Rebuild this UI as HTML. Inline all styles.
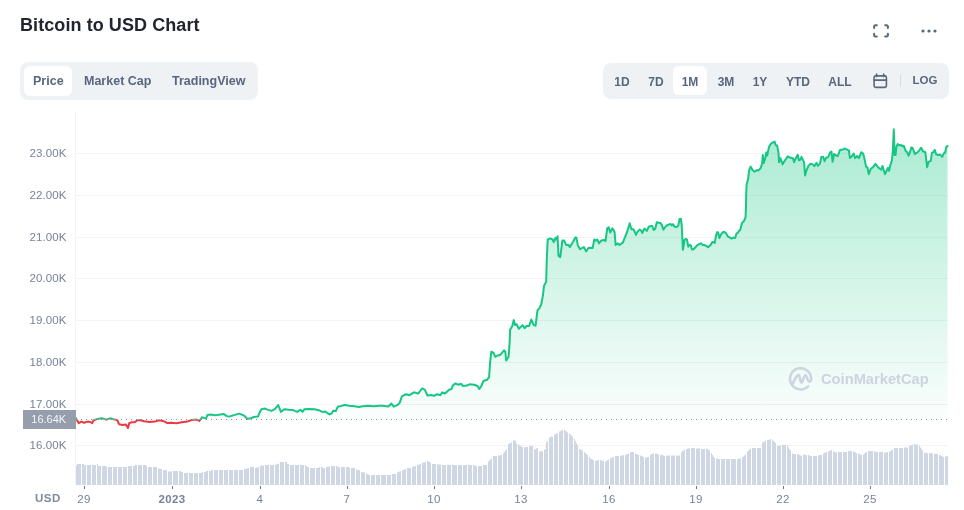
<!DOCTYPE html>
<html><head><meta charset="utf-8">
<style>
*{margin:0;padding:0;box-sizing:border-box}
html,body{width:964px;height:510px;overflow:hidden;background:#fff}
body{position:relative;font-family:"Liberation Sans",sans-serif;-webkit-font-smoothing:antialiased}
.a,.tab,.rb,.yl,.xl{will-change:transform}
.a{position:absolute;white-space:nowrap}
.title{left:20px;top:15.7px;font-size:18px;line-height:18px;font-weight:700;color:#222531;letter-spacing:0.08px}
.grp{position:absolute;background:#EFF2F5;border-radius:8px}
.act{position:absolute;background:#fff;border-radius:6px}
.tab{position:absolute;font-size:12.5px;line-height:12.5px;font-weight:700;color:#58667E;white-space:nowrap}
.rb{position:absolute;font-size:12px;line-height:12px;font-weight:700;color:#58667E;white-space:nowrap;text-align:center;width:40px}
.yl{position:absolute;left:0;width:66.5px;text-align:right;font-size:11.5px;line-height:11.5px;color:#77819A;white-space:nowrap;letter-spacing:0.1px}
.xl{position:absolute;top:493.8px;width:60px;text-align:center;font-size:11.5px;line-height:11.5px;color:#77819A;white-space:nowrap;letter-spacing:0.4px}
.xl.b{font-weight:700}
</style></head><body>
<div class="a title">Bitcoin to USD Chart</div>

<!-- top right icons -->
<svg class="a" style="left:0;top:0" width="964" height="60" viewBox="0 0 964 60">
  <g fill="none" stroke="#58667E" stroke-width="2" stroke-linecap="round" stroke-linejoin="round">
    <path d="M874.1 28V26.6a1.4 1.4 0 0 1 1.4-1.4H876.8"/>
    <path d="M885.2 25.2H886.5a1.4 1.4 0 0 1 1.4 1.4V28"/>
    <path d="M887.9 33.8V35.2a1.4 1.4 0 0 1-1.4 1.4H885.2"/>
    <path d="M876.8 36.6H875.5a1.4 1.4 0 0 1-1.4-1.4V33.8"/>
  </g>
  <g fill="#58667E">
    <circle cx="923" cy="31" r="1.6"/><circle cx="929" cy="31" r="1.6"/><circle cx="935" cy="31" r="1.6"/>
  </g>
</svg>

<!-- left tabs -->
<div class="grp" style="left:20px;top:62px;width:238px;height:38px"></div>
<div class="act" style="left:24px;top:66px;width:48px;height:30px"></div>
<div class="tab" style="left:33px;top:74.6px">Price</div>
<div class="tab" style="left:84px;top:74.6px">Market Cap</div>
<div class="tab" style="left:172px;top:74.6px">TradingView</div>

<!-- right range -->
<div class="grp" style="left:603px;top:63px;width:346px;height:36px"></div>
<div class="act" style="left:673px;top:66px;width:34px;height:29px"></div>
<div class="rb" style="left:602.3px;top:76.2px">1D</div>
<div class="rb" style="left:635.5px;top:76.2px">7D</div>
<div class="rb" style="left:669.7px;top:76.2px">1M</div>
<div class="rb" style="left:705.7px;top:76.2px">3M</div>
<div class="rb" style="left:740px;top:76.2px">1Y</div>
<div class="rb" style="left:777.8px;top:76.2px">YTD</div>
<div class="rb" style="left:819.8px;top:76.2px">ALL</div>
<div class="rb" style="left:905.2px;top:75.3px;font-size:11.5px;line-height:11.5px">LOG</div>
<svg class="a" style="left:0;top:0" width="964" height="100" viewBox="0 0 964 100">
  <g fill="none" stroke="#58667E" stroke-width="1.6" stroke-linecap="round" stroke-linejoin="round">
    <rect x="874.1" y="75.9" width="12.3" height="11.5" rx="1.6"/>
    <path d="M874.1 80.1H886.4"/>
    <path d="M876.6 74V76.6M883.7 74V76.6"/>
  </g>
  <rect x="900" y="74.5" width="1" height="12" fill="#D5DAE2"/>
</svg>

<!-- chart -->
<svg class="a" style="left:0;top:0" width="964" height="510" viewBox="0 0 964 510">
  <defs>
    <linearGradient id="gg" gradientUnits="userSpaceOnUse" x1="0" y1="129" x2="0" y2="419.5">
      <stop offset="0" stop-color="#16C784" stop-opacity="0.36"/>
      <stop offset="1" stop-color="#16C784" stop-opacity="0.02"/>
    </linearGradient>
    <linearGradient id="rg" gradientUnits="userSpaceOnUse" x1="0" y1="419.5" x2="0" y2="485">
      <stop offset="0" stop-color="#EA3943" stop-opacity="0.02"/>
      <stop offset="1" stop-color="#EA3943" stop-opacity="0.3"/>
    </linearGradient>
    <clipPath id="top"><rect x="0" y="0" width="964" height="419.5"/></clipPath>
    <clipPath id="bot"><rect x="0" y="419.5" width="964" height="100"/></clipPath>
  </defs>
  <rect x="75" y="111" width="1" height="374" fill="#F2F4F7"/>
  <rect x="76" y="153" width="872" height="1" fill="#F1F3F6"/><rect x="76" y="195" width="872" height="1" fill="#F1F3F6"/><rect x="76" y="237" width="872" height="1" fill="#F1F3F6"/><rect x="76" y="278" width="872" height="1" fill="#F1F3F6"/><rect x="76" y="320" width="872" height="1" fill="#F1F3F6"/><rect x="76" y="362" width="872" height="1" fill="#F1F3F6"/><rect x="76" y="404" width="872" height="1" fill="#F1F3F6"/><rect x="76" y="445" width="872" height="1" fill="#F1F3F6"/>
  <path d="M76 465.5h1V485h-1ZM77 464h4V485h-4ZM82 464h2V485h-2ZM84 465h2V485h-2ZM87 465h4V485h-4ZM92 465h4V485h-4ZM97 464h1V485h-1ZM98 466h3V485h-3ZM102 466h4V485h-4ZM106 466.5h1V485h-1ZM108 467h4V485h-4ZM113 467h4V485h-4ZM118 467h4V485h-4ZM123 467h4V485h-4ZM128 466h4V485h-4ZM133 466h2V485h-2ZM135 465h2V485h-2ZM138 465h4V485h-4ZM143 465h3V485h-3ZM146 466h1V485h-1ZM148 467h4V485h-4ZM153 467h4V485h-4ZM158 468.5h2V485h-2ZM160 469h2V485h-2ZM163 470h4V485h-4ZM168 471.5h4V485h-4ZM173 471h5V485h-5ZM179 471h2V485h-2ZM181 472h2V485h-2ZM184 473h4V485h-4ZM189 473h4V485h-4ZM194 473h4V485h-4ZM199 473h3V485h-3ZM202 472h1V485h-1ZM204 472h2V485h-2ZM206 471h2V485h-2ZM209 471h2V485h-2ZM211 470h2V485h-2ZM214 470h4V485h-4ZM219 470h4V485h-4ZM224 470h4V485h-4ZM229 470h4V485h-4ZM234 470h4V485h-4ZM239 470h4V485h-4ZM244 469h2V485h-2ZM246 468.5h2V485h-2ZM248 468h1V485h-1ZM250 467h4V485h-4ZM255 468h1V485h-1ZM256 467.5h2V485h-2ZM258 467h1V485h-1ZM260 465.5h4V485h-4ZM265 465h4V485h-4ZM270 465h4V485h-4ZM275 465h1V485h-1ZM276 464.5h1V485h-1ZM277 464h1V485h-1ZM278 463.5h1V485h-1ZM280 462h4V485h-4ZM285 462h2V485h-2ZM287 464h2V485h-2ZM290 465h4V485h-4ZM295 465h4V485h-4ZM300 465h4V485h-4ZM305 465h1V485h-1ZM306 466h1V485h-1ZM307 467h2V485h-2ZM310 468h5V485h-5ZM316 468h3V485h-3ZM319 467h1V485h-1ZM321 467h2V485h-2ZM323 468h2V485h-2ZM326 467h3V485h-3ZM329 466h1V485h-1ZM331 466h4V485h-4ZM336 466h1V485h-1ZM337 466.5h1V485h-1ZM338 467h2V485h-2ZM341 467h4V485h-4ZM346 467h3V485h-3ZM349 468h1V485h-1ZM351 468h4V485h-4ZM356 469.5h1V485h-1ZM357 470h2V485h-2ZM359 470.5h1V485h-1ZM361 472h2V485h-2ZM363 472.5h2V485h-2ZM366 474h2V485h-2ZM368 474.5h1V485h-1ZM369 475h1V485h-1ZM371 475h4V485h-4ZM376 475h4V485h-4ZM381 475h5V485h-5ZM387 475h4V485h-4ZM392 474h4V485h-4ZM397 472.5h1V485h-1ZM398 472h1V485h-1ZM399 471.5h1V485h-1ZM400 471h1V485h-1ZM402 470.5h1V485h-1ZM403 470h1V485h-1ZM404 469.5h1V485h-1ZM405 469h1V485h-1ZM407 468h4V485h-4ZM412 467h1V485h-1ZM413 466.5h2V485h-2ZM415 466h1V485h-1ZM417 465h1V485h-1ZM418 464.5h2V485h-2ZM420 464h1V485h-1ZM422 463h1V485h-1ZM423 462.5h2V485h-2ZM425 462h1V485h-1ZM427 461h1V485h-1ZM428 461.5h1V485h-1ZM429 462h1V485h-1ZM430 462.5h1V485h-1ZM432 464h4V485h-4ZM437 464.5h4V485h-4ZM442 465h4V485h-4ZM447 465h1V485h-1ZM448 464.5h1V485h-1ZM449 465h2V485h-2ZM452 465h5V485h-5ZM458 465h4V485h-4ZM463 465h4V485h-4ZM468 465h4V485h-4ZM473 465h1V485h-1ZM474 465.5h2V485h-2ZM476 466h1V485h-1ZM478 466h4V485h-4ZM483 465h4V485h-4ZM488 461.5h1V485h-1ZM489 460.5h1V485h-1ZM490 459.5h1V485h-1ZM491 458.5h1V485h-1ZM493 456h4V485h-4ZM498 455.5h2V485h-2ZM500 455h2V485h-2ZM503 453.5h1V485h-1ZM504 452h1V485h-1ZM505 450.5h1V485h-1ZM506 449.5h1V485h-1ZM508 444h1V485h-1ZM509 443.5h1V485h-1ZM510 443h1V485h-1ZM511 442.5h1V485h-1ZM513 440.5h3V485h-3ZM516 443.5h1V485h-1ZM518 444.5h1V485h-1ZM519 445.5h1V485h-1ZM520 446h1V485h-1ZM521 446.5h1V485h-1ZM522 447h1V485h-1ZM524 447h4V485h-4ZM529 446h4V485h-4ZM534 449.5h1V485h-1ZM535 449h1V485h-1ZM536 448.5h1V485h-1ZM537 448h1V485h-1ZM539 451.5h2V485h-2ZM541 451h2V485h-2ZM544 449.5h2V485h-2ZM546 442.5h1V485h-1ZM547 441h1V485h-1ZM549 437.5h1V485h-1ZM550 437h1V485h-1ZM551 436.5h2V485h-2ZM554 434.5h1V485h-1ZM555 434h1V485h-1ZM556 433.5h1V485h-1ZM557 433h1V485h-1ZM559 431.5h1V485h-1ZM560 431h1V485h-1ZM561 430.5h1V485h-1ZM562 430h1V485h-1ZM564 430h1V485h-1ZM565 430.5h1V485h-1ZM566 431.5h1V485h-1ZM567 432.5h1V485h-1ZM569 433.5h1V485h-1ZM570 434.5h1V485h-1ZM571 435.5h1V485h-1ZM572 436.5h1V485h-1ZM574 439h1V485h-1ZM575 441h1V485h-1ZM576 443h1V485h-1ZM577 445h1V485h-1ZM579 449h1V485h-1ZM580 449.5h1V485h-1ZM581 450h1V485h-1ZM582 450.5h1V485h-1ZM584 452h1V485h-1ZM585 453h1V485h-1ZM586 454h1V485h-1ZM587 455h1V485h-1ZM589 457h1V485h-1ZM590 458.5h1V485h-1ZM591 459h1V485h-1ZM592 459.5h1V485h-1ZM593 460h1V485h-1ZM595 461h1V485h-1ZM596 460.5h2V485h-2ZM598 460h1V485h-1ZM600 460h1V485h-1ZM601 460.5h1V485h-1ZM602 461h2V485h-2ZM605 461.5h1V485h-1ZM606 461h1V485h-1ZM607 460h1V485h-1ZM608 459.5h1V485h-1ZM610 458h2V485h-2ZM612 457.5h1V485h-1ZM613 457h1V485h-1ZM615 456h4V485h-4ZM620 456h1V485h-1ZM621 455.5h2V485h-2ZM623 455h1V485h-1ZM625 455h1V485h-1ZM626 454.5h1V485h-1ZM627 454h1V485h-1ZM628 453.5h1V485h-1ZM630 452.5h1V485h-1ZM631 452h3V485h-3ZM635 453.5h1V485h-1ZM636 454h1V485h-1ZM637 454.5h1V485h-1ZM638 455h1V485h-1ZM640 455.5h1V485h-1ZM641 456h1V485h-1ZM642 456.5h1V485h-1ZM643 457h1V485h-1ZM645 458h1V485h-1ZM646 457.5h1V485h-1ZM647 457h2V485h-2ZM650 455h1V485h-1ZM651 454h2V485h-2ZM653 453.5h1V485h-1ZM655 453.5h2V485h-2ZM657 454h1V485h-1ZM658 454.5h1V485h-1ZM660 455h1V485h-1ZM661 454.5h1V485h-1ZM662 455h1V485h-1ZM663 455.5h1V485h-1ZM664 456h1V485h-1ZM666 455.5h4V485h-4ZM671 455.5h4V485h-4ZM676 455.5h4V485h-4ZM681 452.5h1V485h-1ZM682 451h1V485h-1ZM683 450.5h1V485h-1ZM684 449.5h1V485h-1ZM686 449h1V485h-1ZM687 448.5h3V485h-3ZM691 448h4V485h-4ZM696 448.5h4V485h-4ZM701 449h4V485h-4ZM706 448.5h1V485h-1ZM707 449h1V485h-1ZM708 450h1V485h-1ZM709 450.5h1V485h-1ZM711 453h1V485h-1ZM712 455h1V485h-1ZM713 456.5h1V485h-1ZM714 458h1V485h-1ZM716 458.5h2V485h-2ZM718 459h2V485h-2ZM721 459h4V485h-4ZM726 459h4V485h-4ZM731 459h5V485h-5ZM737 459h2V485h-2ZM739 458.5h2V485h-2ZM742 457h1V485h-1ZM743 456.5h1V485h-1ZM744 455.5h1V485h-1ZM745 454.5h1V485h-1ZM747 451.5h1V485h-1ZM748 450.5h1V485h-1ZM749 449.5h1V485h-1ZM750 448.5h1V485h-1ZM752 448h4V485h-4ZM757 448h4V485h-4ZM762 442.5h1V485h-1ZM763 442h1V485h-1ZM764 441.5h1V485h-1ZM765 440.5h1V485h-1ZM767 440h2V485h-2ZM769 439.5h1V485h-1ZM770 439h1V485h-1ZM772 439.5h1V485h-1ZM773 441h1V485h-1ZM774 442h1V485h-1ZM775 443h1V485h-1ZM777 446h2V485h-2ZM779 445.5h2V485h-2ZM782 445h4V485h-4ZM787 445.5h1V485h-1ZM788 447.5h1V485h-1ZM789 449h1V485h-1ZM790 450.5h1V485h-1ZM792 453.5h1V485h-1ZM793 454h3V485h-3ZM797 454h1V485h-1ZM798 454.5h1V485h-1ZM799 455h1V485h-1ZM800 455.5h1V485h-1ZM801 456h1V485h-1ZM803 454.5h2V485h-2ZM805 455h2V485h-2ZM808 455h1V485h-1ZM809 455.5h1V485h-1ZM810 456h2V485h-2ZM813 456h4V485h-4ZM818 455.5h1V485h-1ZM819 455h3V485h-3ZM823 453.5h1V485h-1ZM824 453h1V485h-1ZM825 452.5h1V485h-1ZM826 452h1V485h-1ZM828 451.5h1V485h-1ZM829 451h1V485h-1ZM830 450.5h1V485h-1ZM831 450h1V485h-1ZM833 451.5h1V485h-1ZM834 452h1V485h-1ZM835 452.5h2V485h-2ZM838 452h4V485h-4ZM843 452h4V485h-4ZM848 451h4V485h-4ZM853 451.5h1V485h-1ZM854 452h1V485h-1ZM855 452.5h1V485h-1ZM856 453h1V485h-1ZM858 453.5h1V485h-1ZM859 454h1V485h-1ZM860 454.5h1V485h-1ZM861 455h1V485h-1ZM863 454.5h1V485h-1ZM864 453.5h1V485h-1ZM865 452.5h1V485h-1ZM866 452h1V485h-1ZM868 451h5V485h-5ZM874 451h1V485h-1ZM875 451.5h1V485h-1ZM876 452h2V485h-2ZM879 452h4V485h-4ZM884 452.5h3V485h-3ZM887 452h1V485h-1ZM889 452h1V485h-1ZM890 451h1V485h-1ZM891 450.5h1V485h-1ZM892 449.5h1V485h-1ZM894 448h4V485h-4ZM899 448h4V485h-4ZM904 447.5h4V485h-4ZM909 446h1V485h-1ZM910 445.5h1V485h-1ZM911 445h1V485h-1ZM912 444.5h1V485h-1ZM914 444h1V485h-1ZM915 444.5h3V485h-3ZM919 446h1V485h-1ZM920 447.5h1V485h-1ZM921 449h1V485h-1ZM922 450.5h1V485h-1ZM924 452.5h1V485h-1ZM925 453h3V485h-3ZM929 453h3V485h-3ZM932 453.5h1V485h-1ZM934 453.5h1V485h-1ZM935 454h3V485h-3ZM939 455h1V485h-1ZM940 455.5h1V485h-1ZM941 456h1V485h-1ZM942 456.5h1V485h-1ZM943 457h1V485h-1ZM945 456.5h2V485h-2ZM947 456h1V485h-1Z" fill="#CFD6E4"/>
  <g fill="#878FA0"><rect x="81" y="419" width="1" height="1"/><rect x="86" y="419" width="1" height="1"/><rect x="91" y="419" width="1" height="1"/><rect x="96" y="419" width="1" height="1"/><rect x="101" y="419" width="1" height="1"/><rect x="106" y="419" width="1" height="1"/><rect x="111" y="419" width="1" height="1"/><rect x="116" y="419" width="1" height="1"/><rect x="121" y="419" width="1" height="1"/><rect x="126" y="419" width="1" height="1"/><rect x="131" y="419" width="1" height="1"/><rect x="136" y="419" width="1" height="1"/><rect x="141" y="419" width="1" height="1"/><rect x="146" y="419" width="1" height="1"/><rect x="151" y="419" width="1" height="1"/><rect x="156" y="419" width="1" height="1"/><rect x="161" y="419" width="1" height="1"/><rect x="166" y="419" width="1" height="1"/><rect x="171" y="419" width="1" height="1"/><rect x="176" y="419" width="1" height="1"/><rect x="181" y="419" width="1" height="1"/><rect x="186" y="419" width="1" height="1"/><rect x="191" y="419" width="1" height="1"/><rect x="196" y="419" width="1" height="1"/><rect x="201" y="419" width="1" height="1"/><rect x="206" y="419" width="1" height="1"/><rect x="211" y="419" width="1" height="1"/><rect x="216" y="419" width="1" height="1"/><rect x="221" y="419" width="1" height="1"/><rect x="226" y="419" width="1" height="1"/><rect x="231" y="419" width="1" height="1"/><rect x="236" y="419" width="1" height="1"/><rect x="241" y="419" width="1" height="1"/><rect x="246" y="419" width="1" height="1"/><rect x="251" y="419" width="1" height="1"/><rect x="256" y="419" width="1" height="1"/><rect x="261" y="419" width="1" height="1"/><rect x="266" y="419" width="1" height="1"/><rect x="271" y="419" width="1" height="1"/><rect x="276" y="419" width="1" height="1"/><rect x="281" y="419" width="1" height="1"/><rect x="286" y="419" width="1" height="1"/><rect x="291" y="419" width="1" height="1"/><rect x="296" y="419" width="1" height="1"/><rect x="301" y="419" width="1" height="1"/><rect x="306" y="419" width="1" height="1"/><rect x="311" y="419" width="1" height="1"/><rect x="316" y="419" width="1" height="1"/><rect x="321" y="419" width="1" height="1"/><rect x="326" y="419" width="1" height="1"/><rect x="331" y="419" width="1" height="1"/><rect x="336" y="419" width="1" height="1"/><rect x="341" y="419" width="1" height="1"/><rect x="346" y="419" width="1" height="1"/><rect x="351" y="419" width="1" height="1"/><rect x="356" y="419" width="1" height="1"/><rect x="361" y="419" width="1" height="1"/><rect x="366" y="419" width="1" height="1"/><rect x="371" y="419" width="1" height="1"/><rect x="376" y="419" width="1" height="1"/><rect x="381" y="419" width="1" height="1"/><rect x="386" y="419" width="1" height="1"/><rect x="391" y="419" width="1" height="1"/><rect x="396" y="419" width="1" height="1"/><rect x="401" y="419" width="1" height="1"/><rect x="406" y="419" width="1" height="1"/><rect x="411" y="419" width="1" height="1"/><rect x="416" y="419" width="1" height="1"/><rect x="421" y="419" width="1" height="1"/><rect x="426" y="419" width="1" height="1"/><rect x="431" y="419" width="1" height="1"/><rect x="436" y="419" width="1" height="1"/><rect x="441" y="419" width="1" height="1"/><rect x="446" y="419" width="1" height="1"/><rect x="451" y="419" width="1" height="1"/><rect x="456" y="419" width="1" height="1"/><rect x="461" y="419" width="1" height="1"/><rect x="466" y="419" width="1" height="1"/><rect x="471" y="419" width="1" height="1"/><rect x="476" y="419" width="1" height="1"/><rect x="481" y="419" width="1" height="1"/><rect x="486" y="419" width="1" height="1"/><rect x="491" y="419" width="1" height="1"/><rect x="496" y="419" width="1" height="1"/><rect x="501" y="419" width="1" height="1"/><rect x="506" y="419" width="1" height="1"/><rect x="511" y="419" width="1" height="1"/><rect x="516" y="419" width="1" height="1"/><rect x="521" y="419" width="1" height="1"/><rect x="526" y="419" width="1" height="1"/><rect x="531" y="419" width="1" height="1"/><rect x="536" y="419" width="1" height="1"/><rect x="541" y="419" width="1" height="1"/><rect x="546" y="419" width="1" height="1"/><rect x="551" y="419" width="1" height="1"/><rect x="556" y="419" width="1" height="1"/><rect x="561" y="419" width="1" height="1"/><rect x="566" y="419" width="1" height="1"/><rect x="571" y="419" width="1" height="1"/><rect x="576" y="419" width="1" height="1"/><rect x="581" y="419" width="1" height="1"/><rect x="586" y="419" width="1" height="1"/><rect x="591" y="419" width="1" height="1"/><rect x="596" y="419" width="1" height="1"/><rect x="601" y="419" width="1" height="1"/><rect x="606" y="419" width="1" height="1"/><rect x="611" y="419" width="1" height="1"/><rect x="616" y="419" width="1" height="1"/><rect x="621" y="419" width="1" height="1"/><rect x="626" y="419" width="1" height="1"/><rect x="631" y="419" width="1" height="1"/><rect x="636" y="419" width="1" height="1"/><rect x="641" y="419" width="1" height="1"/><rect x="646" y="419" width="1" height="1"/><rect x="651" y="419" width="1" height="1"/><rect x="656" y="419" width="1" height="1"/><rect x="661" y="419" width="1" height="1"/><rect x="666" y="419" width="1" height="1"/><rect x="671" y="419" width="1" height="1"/><rect x="676" y="419" width="1" height="1"/><rect x="681" y="419" width="1" height="1"/><rect x="686" y="419" width="1" height="1"/><rect x="691" y="419" width="1" height="1"/><rect x="696" y="419" width="1" height="1"/><rect x="701" y="419" width="1" height="1"/><rect x="706" y="419" width="1" height="1"/><rect x="711" y="419" width="1" height="1"/><rect x="716" y="419" width="1" height="1"/><rect x="721" y="419" width="1" height="1"/><rect x="726" y="419" width="1" height="1"/><rect x="731" y="419" width="1" height="1"/><rect x="736" y="419" width="1" height="1"/><rect x="741" y="419" width="1" height="1"/><rect x="746" y="419" width="1" height="1"/><rect x="751" y="419" width="1" height="1"/><rect x="756" y="419" width="1" height="1"/><rect x="761" y="419" width="1" height="1"/><rect x="766" y="419" width="1" height="1"/><rect x="771" y="419" width="1" height="1"/><rect x="776" y="419" width="1" height="1"/><rect x="781" y="419" width="1" height="1"/><rect x="786" y="419" width="1" height="1"/><rect x="791" y="419" width="1" height="1"/><rect x="796" y="419" width="1" height="1"/><rect x="801" y="419" width="1" height="1"/><rect x="806" y="419" width="1" height="1"/><rect x="811" y="419" width="1" height="1"/><rect x="816" y="419" width="1" height="1"/><rect x="821" y="419" width="1" height="1"/><rect x="826" y="419" width="1" height="1"/><rect x="831" y="419" width="1" height="1"/><rect x="836" y="419" width="1" height="1"/><rect x="841" y="419" width="1" height="1"/><rect x="846" y="419" width="1" height="1"/><rect x="851" y="419" width="1" height="1"/><rect x="856" y="419" width="1" height="1"/><rect x="861" y="419" width="1" height="1"/><rect x="866" y="419" width="1" height="1"/><rect x="871" y="419" width="1" height="1"/><rect x="876" y="419" width="1" height="1"/><rect x="881" y="419" width="1" height="1"/><rect x="886" y="419" width="1" height="1"/><rect x="891" y="419" width="1" height="1"/><rect x="896" y="419" width="1" height="1"/><rect x="901" y="419" width="1" height="1"/><rect x="906" y="419" width="1" height="1"/><rect x="911" y="419" width="1" height="1"/><rect x="916" y="419" width="1" height="1"/><rect x="921" y="419" width="1" height="1"/><rect x="926" y="419" width="1" height="1"/><rect x="931" y="419" width="1" height="1"/><rect x="936" y="419" width="1" height="1"/><rect x="941" y="419" width="1" height="1"/><rect x="946" y="419" width="1" height="1"/></g>
  <path d="M76,418.2 78.7,423.2 81.4,421.6 84.1,422.7 87.5,421.6 90.2,422 92.2,423.2 93.6,420.2 97.6,418.9 101.6,418.2 106.4,419.6 110.4,418.2 114.5,419.6 117.2,420 119.2,424.3 122.5,425 125.9,424.5 128,428 129.3,422.9 132,422.3 134.7,422.3 137.4,420.2 140,420 144.1,421.3 149.5,422 154.9,421.6 159,420.2 163,420.9 167,422.9 171.1,422.7 176.5,423.2 181.9,422.3 187.3,421.6 191.3,420 196.7,419.6 199.4,420.9 202,417.3 204,417.9 206,418.6 207.4,415 210.8,414.6 214.8,415.2 217.5,415 220.2,414.6 223.6,413.9 226.3,415.9 229,416.6 232.4,415.6 235.7,414.6 239.1,413.6 241.8,414.6 244.5,415.9 247.2,419 250.6,418.2 253.9,417 258,416.6 259.3,413.2 261.4,409.2 264.7,408.5 267.4,409.6 271.5,410.9 274.8,409.2 278.2,405.1 280.9,411.9 284.3,409.2 289,409.8 293.1,410.1 297.1,411.9 300.5,409.8 302.5,411.9 304.5,409.2 309.2,408.9 314.6,409.2 318.7,410.2 322.7,412.1 325.4,411.5 327,412.8 329.7,414.4 331.7,413.4 333.1,410.7 335.8,411.1 337.8,406.7 341.2,406 344.6,404.9 349.3,405.7 354.7,406.3 358.7,407 362.8,406.3 368.2,405.7 373.6,406.3 378.9,405.7 383,405.7 388.4,406.4 391.4,403.6 393.8,406.7 397.8,404.9 399.8,402.6 401.9,396.3 405.9,394.2 409.3,395.2 414,392.3 418.1,393.6 422.1,388.5 424.8,389.6 427.5,395.5 431.5,395 434.2,395.9 436.9,394.2 440.3,395.2 442.3,392.3 445,393.5 449.1,389.8 451.5,389 452.8,385.6 455.2,383.4 458.4,384.7 461.2,383.8 463,386 466.8,385.6 469.5,384.3 474.2,384.7 477.5,386 479.4,389 481.3,386 483.5,381 487.2,379.7 489.1,377.2 490,363.3 491.3,351.7 493.7,353 495.2,356.8 497.5,355.5 500.3,354.9 504,350.3 505.3,351.7 506.2,360.5 508.6,356.8 509.6,342.8 510.1,329.8 512.3,326.1 513.8,320.1 515.1,325.1 516.6,324.2 518.9,328.8 522.6,325.1 524.8,328.3 526.3,326.1 529.1,326.1 531.3,319.5 533.8,325.1 535.6,325.7 537.5,310.2 539.3,308.4 541.2,304.5 542.9,295.6 544,285.9 546.2,281.6 546.8,258.9 547.7,239.5 550.5,238.4 552.6,239.5 553.7,242.1 555.5,237.8 556.3,239.5 557.6,236.3 558.5,255.7 560.2,257.2 562.4,240.6 564.1,240.6 566.2,244.9 568.4,244.9 569.9,247.1 573.1,241.7 575.3,237.4 576.4,237.8 577.9,245.6 580,249.2 583.9,247.1 586.1,251.4 588.7,247.7 592.6,248.1 594.3,239.5 595.8,240.6 597.3,239.5 599,243.4 601.2,240.6 604.4,239.9 605.5,241.2 607.2,228.3 608.7,227.2 610.2,232.6 612.4,228.3 614.6,232 615.6,244.9 617.4,243.4 619.5,244.9 622.8,242.7 624.9,237.4 627.1,232 629.7,223.3 631.4,229.2 633.5,229.2 635,232.4 636,234.9 637.5,231.7 639.7,229.6 641.2,230.5 642.2,233 644.3,228.6 645.6,229.6 646.8,230.9 648.7,226.8 650.6,226.1 652.2,225.9 653.7,229.9 655.2,228.9 656.8,222.2 658.7,222.7 660.5,223 661.8,224.9 663.4,229.6 664.9,227.4 666.7,225.5 668.6,224.6 670.5,223.9 671.7,225.5 673,224.3 674.6,226.8 676.7,227.1 678.3,225.5 679.6,218.9 680.8,218.7 681.7,224.9 682.3,237.3 682.9,249.8 683.8,244.8 684.5,239.8 686,238.8 687,239.8 688.3,246.7 689.8,244.8 690.8,245.4 692,249.5 693.5,249.2 695.4,247.3 697.2,245.4 699.1,244.2 701,243.3 702.8,245.1 704.7,245.1 706.6,246.1 708.2,247.3 709.7,245.8 710.9,244.8 712.2,242.1 713.4,242.1 714.7,242.9 715.9,236.1 717.2,232.1 718.2,232.6 719.4,238 720.9,234.6 723.4,231.7 725.9,233 727.7,236.3 729.6,237.3 731.5,238.6 733.3,237.6 735.2,238 736.5,233.4 737.7,233 739,230.9 740.2,229.9 741.1,226.1 742.1,222.7 743.9,221.2 745.5,217.4 746,207.5 746.2,193.8 746.6,185 748.1,179.1 749.1,170.3 750.6,166.6 752.5,170 754.7,171.8 756.9,170 758.4,170.6 760.6,168.1 762.1,163.7 762.8,154.9 763.8,162.9 765,159.3 766.2,152.4 767.2,155.6 767.9,151.9 769.1,146.8 770.9,143.8 772.6,142.6 774.6,141.6 775.7,145.3 777.1,145.6 778.5,152.6 779,162.2 780.4,158.2 782.6,164.4 784.1,161.5 787.8,156.3 790.7,157.8 792.9,158.2 794.1,162.2 795.9,157.8 797.8,154.9 798.8,160.3 800.3,159.7 801.5,156.8 804,162.2 805.1,175.4 806.5,170.3 808.4,165.9 810.6,163.7 812.8,164.4 814.3,166.2 816.5,162.9 817.9,165.9 819.9,163.7 821.3,157.1 823.1,156.8 824.6,161.2 826,157.8 828.2,157.1 830,152.6 831.5,151.5 832.6,161.8 834.1,154.1 836.3,155.6 837.8,155.9 840,150 842.9,149.4 845.1,148.5 847.5,149.9 848.9,150.5 849.9,158.1 851.7,156.4 853.7,153.6 855.1,158.1 857.2,156 858.9,158.1 861.3,152.2 863.1,153.6 864.7,159.8 866.1,166.7 867.4,167.3 868.8,174.2 870.9,168.7 872.9,167.3 875.4,163.9 877.7,166.7 879.8,168.7 881.2,169.7 882.5,166 885,174.2 886.7,170.5 888,167.8 889.1,170.8 890.5,164.6 891.9,160.5 892.8,151.6 893.8,129.3 894.6,155 895.6,155 896.3,147.4 897.6,144 899.7,145.4 901.1,145 902.4,146.3 903.8,145.8 905.9,151.3 907.2,152.2 908.6,155.7 910,152.2 911.4,147.4 912.7,148.1 914.8,154 916.8,152.9 918.9,150.9 921.2,147.7 923,151.3 925.4,152.2 927.1,167.3 928.5,161.9 930.8,160.9 931.9,152.9 933.3,152.2 934.7,149.9 936.1,154.3 938.1,155 940.2,154.6 942.2,156.8 943.6,153.6 945,152.7 946.4,146.8 947.5,146.1 L947.5,419.5 L76,419.5 Z" fill="url(#gg)" clip-path="url(#top)"/>
  <path d="M76,418.2 78.7,423.2 81.4,421.6 84.1,422.7 87.5,421.6 90.2,422 92.2,423.2 93.6,420.2 97.6,418.9 101.6,418.2 106.4,419.6 110.4,418.2 114.5,419.6 117.2,420 119.2,424.3 122.5,425 125.9,424.5 128,428 129.3,422.9 132,422.3 134.7,422.3 137.4,420.2 140,420 144.1,421.3 149.5,422 154.9,421.6 159,420.2 163,420.9 167,422.9 171.1,422.7 176.5,423.2 181.9,422.3 187.3,421.6 191.3,420 196.7,419.6 199.4,420.9 202,417.3 204,417.9 206,418.6 207.4,415 210.8,414.6 214.8,415.2 217.5,415 220.2,414.6 223.6,413.9 226.3,415.9 229,416.6 232.4,415.6 235.7,414.6 239.1,413.6 241.8,414.6 244.5,415.9 247.2,419 250.6,418.2 253.9,417 258,416.6 259.3,413.2 261.4,409.2 264.7,408.5 267.4,409.6 271.5,410.9 274.8,409.2 278.2,405.1 280.9,411.9 284.3,409.2 289,409.8 293.1,410.1 297.1,411.9 300.5,409.8 302.5,411.9 304.5,409.2 309.2,408.9 314.6,409.2 318.7,410.2 322.7,412.1 325.4,411.5 327,412.8 329.7,414.4 331.7,413.4 333.1,410.7 335.8,411.1 337.8,406.7 341.2,406 344.6,404.9 349.3,405.7 354.7,406.3 358.7,407 362.8,406.3 368.2,405.7 373.6,406.3 378.9,405.7 383,405.7 388.4,406.4 391.4,403.6 393.8,406.7 397.8,404.9 399.8,402.6 401.9,396.3 405.9,394.2 409.3,395.2 414,392.3 418.1,393.6 422.1,388.5 424.8,389.6 427.5,395.5 431.5,395 434.2,395.9 436.9,394.2 440.3,395.2 442.3,392.3 445,393.5 449.1,389.8 451.5,389 452.8,385.6 455.2,383.4 458.4,384.7 461.2,383.8 463,386 466.8,385.6 469.5,384.3 474.2,384.7 477.5,386 479.4,389 481.3,386 483.5,381 487.2,379.7 489.1,377.2 490,363.3 491.3,351.7 493.7,353 495.2,356.8 497.5,355.5 500.3,354.9 504,350.3 505.3,351.7 506.2,360.5 508.6,356.8 509.6,342.8 510.1,329.8 512.3,326.1 513.8,320.1 515.1,325.1 516.6,324.2 518.9,328.8 522.6,325.1 524.8,328.3 526.3,326.1 529.1,326.1 531.3,319.5 533.8,325.1 535.6,325.7 537.5,310.2 539.3,308.4 541.2,304.5 542.9,295.6 544,285.9 546.2,281.6 546.8,258.9 547.7,239.5 550.5,238.4 552.6,239.5 553.7,242.1 555.5,237.8 556.3,239.5 557.6,236.3 558.5,255.7 560.2,257.2 562.4,240.6 564.1,240.6 566.2,244.9 568.4,244.9 569.9,247.1 573.1,241.7 575.3,237.4 576.4,237.8 577.9,245.6 580,249.2 583.9,247.1 586.1,251.4 588.7,247.7 592.6,248.1 594.3,239.5 595.8,240.6 597.3,239.5 599,243.4 601.2,240.6 604.4,239.9 605.5,241.2 607.2,228.3 608.7,227.2 610.2,232.6 612.4,228.3 614.6,232 615.6,244.9 617.4,243.4 619.5,244.9 622.8,242.7 624.9,237.4 627.1,232 629.7,223.3 631.4,229.2 633.5,229.2 635,232.4 636,234.9 637.5,231.7 639.7,229.6 641.2,230.5 642.2,233 644.3,228.6 645.6,229.6 646.8,230.9 648.7,226.8 650.6,226.1 652.2,225.9 653.7,229.9 655.2,228.9 656.8,222.2 658.7,222.7 660.5,223 661.8,224.9 663.4,229.6 664.9,227.4 666.7,225.5 668.6,224.6 670.5,223.9 671.7,225.5 673,224.3 674.6,226.8 676.7,227.1 678.3,225.5 679.6,218.9 680.8,218.7 681.7,224.9 682.3,237.3 682.9,249.8 683.8,244.8 684.5,239.8 686,238.8 687,239.8 688.3,246.7 689.8,244.8 690.8,245.4 692,249.5 693.5,249.2 695.4,247.3 697.2,245.4 699.1,244.2 701,243.3 702.8,245.1 704.7,245.1 706.6,246.1 708.2,247.3 709.7,245.8 710.9,244.8 712.2,242.1 713.4,242.1 714.7,242.9 715.9,236.1 717.2,232.1 718.2,232.6 719.4,238 720.9,234.6 723.4,231.7 725.9,233 727.7,236.3 729.6,237.3 731.5,238.6 733.3,237.6 735.2,238 736.5,233.4 737.7,233 739,230.9 740.2,229.9 741.1,226.1 742.1,222.7 743.9,221.2 745.5,217.4 746,207.5 746.2,193.8 746.6,185 748.1,179.1 749.1,170.3 750.6,166.6 752.5,170 754.7,171.8 756.9,170 758.4,170.6 760.6,168.1 762.1,163.7 762.8,154.9 763.8,162.9 765,159.3 766.2,152.4 767.2,155.6 767.9,151.9 769.1,146.8 770.9,143.8 772.6,142.6 774.6,141.6 775.7,145.3 777.1,145.6 778.5,152.6 779,162.2 780.4,158.2 782.6,164.4 784.1,161.5 787.8,156.3 790.7,157.8 792.9,158.2 794.1,162.2 795.9,157.8 797.8,154.9 798.8,160.3 800.3,159.7 801.5,156.8 804,162.2 805.1,175.4 806.5,170.3 808.4,165.9 810.6,163.7 812.8,164.4 814.3,166.2 816.5,162.9 817.9,165.9 819.9,163.7 821.3,157.1 823.1,156.8 824.6,161.2 826,157.8 828.2,157.1 830,152.6 831.5,151.5 832.6,161.8 834.1,154.1 836.3,155.6 837.8,155.9 840,150 842.9,149.4 845.1,148.5 847.5,149.9 848.9,150.5 849.9,158.1 851.7,156.4 853.7,153.6 855.1,158.1 857.2,156 858.9,158.1 861.3,152.2 863.1,153.6 864.7,159.8 866.1,166.7 867.4,167.3 868.8,174.2 870.9,168.7 872.9,167.3 875.4,163.9 877.7,166.7 879.8,168.7 881.2,169.7 882.5,166 885,174.2 886.7,170.5 888,167.8 889.1,170.8 890.5,164.6 891.9,160.5 892.8,151.6 893.8,129.3 894.6,155 895.6,155 896.3,147.4 897.6,144 899.7,145.4 901.1,145 902.4,146.3 903.8,145.8 905.9,151.3 907.2,152.2 908.6,155.7 910,152.2 911.4,147.4 912.7,148.1 914.8,154 916.8,152.9 918.9,150.9 921.2,147.7 923,151.3 925.4,152.2 927.1,167.3 928.5,161.9 930.8,160.9 931.9,152.9 933.3,152.2 934.7,149.9 936.1,154.3 938.1,155 940.2,154.6 942.2,156.8 943.6,153.6 945,152.7 946.4,146.8 947.5,146.1" fill="none" stroke="#16C784" stroke-width="2" stroke-linejoin="round" stroke-linecap="round" clip-path="url(#top)"/>
  <path d="M76,418.2 78.7,423.2 81.4,421.6 84.1,422.7 87.5,421.6 90.2,422 92.2,423.2 93.6,420.2 97.6,418.9 101.6,418.2 106.4,419.6 110.4,418.2 114.5,419.6 117.2,420 119.2,424.3 122.5,425 125.9,424.5 128,428 129.3,422.9 132,422.3 134.7,422.3 137.4,420.2 140,420 144.1,421.3 149.5,422 154.9,421.6 159,420.2 163,420.9 167,422.9 171.1,422.7 176.5,423.2 181.9,422.3 187.3,421.6 191.3,420 196.7,419.6 199.4,420.9 202,417.3 204,417.9 206,418.6 207.4,415 210.8,414.6 214.8,415.2 217.5,415 220.2,414.6 223.6,413.9 226.3,415.9 229,416.6 232.4,415.6 235.7,414.6 239.1,413.6 241.8,414.6 244.5,415.9 247.2,419 250.6,418.2 253.9,417 258,416.6 259.3,413.2 261.4,409.2 264.7,408.5 267.4,409.6 271.5,410.9 274.8,409.2 278.2,405.1 280.9,411.9 284.3,409.2 289,409.8 293.1,410.1 297.1,411.9 300.5,409.8 302.5,411.9 304.5,409.2 309.2,408.9 314.6,409.2 318.7,410.2 322.7,412.1 325.4,411.5 327,412.8 329.7,414.4 331.7,413.4 333.1,410.7 335.8,411.1 337.8,406.7 341.2,406 344.6,404.9 349.3,405.7 354.7,406.3 358.7,407 362.8,406.3 368.2,405.7 373.6,406.3 378.9,405.7 383,405.7 388.4,406.4 391.4,403.6 393.8,406.7 397.8,404.9 399.8,402.6 401.9,396.3 405.9,394.2 409.3,395.2 414,392.3 418.1,393.6 422.1,388.5 424.8,389.6 427.5,395.5 431.5,395 434.2,395.9 436.9,394.2 440.3,395.2 442.3,392.3 445,393.5 449.1,389.8 451.5,389 452.8,385.6 455.2,383.4 458.4,384.7 461.2,383.8 463,386 466.8,385.6 469.5,384.3 474.2,384.7 477.5,386 479.4,389 481.3,386 483.5,381 487.2,379.7 489.1,377.2 490,363.3 491.3,351.7 493.7,353 495.2,356.8 497.5,355.5 500.3,354.9 504,350.3 505.3,351.7 506.2,360.5 508.6,356.8 509.6,342.8 510.1,329.8 512.3,326.1 513.8,320.1 515.1,325.1 516.6,324.2 518.9,328.8 522.6,325.1 524.8,328.3 526.3,326.1 529.1,326.1 531.3,319.5 533.8,325.1 535.6,325.7 537.5,310.2 539.3,308.4 541.2,304.5 542.9,295.6 544,285.9 546.2,281.6 546.8,258.9 547.7,239.5 550.5,238.4 552.6,239.5 553.7,242.1 555.5,237.8 556.3,239.5 557.6,236.3 558.5,255.7 560.2,257.2 562.4,240.6 564.1,240.6 566.2,244.9 568.4,244.9 569.9,247.1 573.1,241.7 575.3,237.4 576.4,237.8 577.9,245.6 580,249.2 583.9,247.1 586.1,251.4 588.7,247.7 592.6,248.1 594.3,239.5 595.8,240.6 597.3,239.5 599,243.4 601.2,240.6 604.4,239.9 605.5,241.2 607.2,228.3 608.7,227.2 610.2,232.6 612.4,228.3 614.6,232 615.6,244.9 617.4,243.4 619.5,244.9 622.8,242.7 624.9,237.4 627.1,232 629.7,223.3 631.4,229.2 633.5,229.2 635,232.4 636,234.9 637.5,231.7 639.7,229.6 641.2,230.5 642.2,233 644.3,228.6 645.6,229.6 646.8,230.9 648.7,226.8 650.6,226.1 652.2,225.9 653.7,229.9 655.2,228.9 656.8,222.2 658.7,222.7 660.5,223 661.8,224.9 663.4,229.6 664.9,227.4 666.7,225.5 668.6,224.6 670.5,223.9 671.7,225.5 673,224.3 674.6,226.8 676.7,227.1 678.3,225.5 679.6,218.9 680.8,218.7 681.7,224.9 682.3,237.3 682.9,249.8 683.8,244.8 684.5,239.8 686,238.8 687,239.8 688.3,246.7 689.8,244.8 690.8,245.4 692,249.5 693.5,249.2 695.4,247.3 697.2,245.4 699.1,244.2 701,243.3 702.8,245.1 704.7,245.1 706.6,246.1 708.2,247.3 709.7,245.8 710.9,244.8 712.2,242.1 713.4,242.1 714.7,242.9 715.9,236.1 717.2,232.1 718.2,232.6 719.4,238 720.9,234.6 723.4,231.7 725.9,233 727.7,236.3 729.6,237.3 731.5,238.6 733.3,237.6 735.2,238 736.5,233.4 737.7,233 739,230.9 740.2,229.9 741.1,226.1 742.1,222.7 743.9,221.2 745.5,217.4 746,207.5 746.2,193.8 746.6,185 748.1,179.1 749.1,170.3 750.6,166.6 752.5,170 754.7,171.8 756.9,170 758.4,170.6 760.6,168.1 762.1,163.7 762.8,154.9 763.8,162.9 765,159.3 766.2,152.4 767.2,155.6 767.9,151.9 769.1,146.8 770.9,143.8 772.6,142.6 774.6,141.6 775.7,145.3 777.1,145.6 778.5,152.6 779,162.2 780.4,158.2 782.6,164.4 784.1,161.5 787.8,156.3 790.7,157.8 792.9,158.2 794.1,162.2 795.9,157.8 797.8,154.9 798.8,160.3 800.3,159.7 801.5,156.8 804,162.2 805.1,175.4 806.5,170.3 808.4,165.9 810.6,163.7 812.8,164.4 814.3,166.2 816.5,162.9 817.9,165.9 819.9,163.7 821.3,157.1 823.1,156.8 824.6,161.2 826,157.8 828.2,157.1 830,152.6 831.5,151.5 832.6,161.8 834.1,154.1 836.3,155.6 837.8,155.9 840,150 842.9,149.4 845.1,148.5 847.5,149.9 848.9,150.5 849.9,158.1 851.7,156.4 853.7,153.6 855.1,158.1 857.2,156 858.9,158.1 861.3,152.2 863.1,153.6 864.7,159.8 866.1,166.7 867.4,167.3 868.8,174.2 870.9,168.7 872.9,167.3 875.4,163.9 877.7,166.7 879.8,168.7 881.2,169.7 882.5,166 885,174.2 886.7,170.5 888,167.8 889.1,170.8 890.5,164.6 891.9,160.5 892.8,151.6 893.8,129.3 894.6,155 895.6,155 896.3,147.4 897.6,144 899.7,145.4 901.1,145 902.4,146.3 903.8,145.8 905.9,151.3 907.2,152.2 908.6,155.7 910,152.2 911.4,147.4 912.7,148.1 914.8,154 916.8,152.9 918.9,150.9 921.2,147.7 923,151.3 925.4,152.2 927.1,167.3 928.5,161.9 930.8,160.9 931.9,152.9 933.3,152.2 934.7,149.9 936.1,154.3 938.1,155 940.2,154.6 942.2,156.8 943.6,153.6 945,152.7 946.4,146.8 947.5,146.1" fill="none" stroke="#EA3943" stroke-width="2" stroke-linejoin="round" stroke-linecap="round" clip-path="url(#bot)"/>
  <g fill="#6E788C"><rect x="84" y="486" width="1" height="3"/><rect x="172" y="486" width="1" height="3"/><rect x="260" y="486" width="1" height="3"/><rect x="347" y="486" width="1" height="3"/><rect x="434" y="486" width="1" height="3"/><rect x="521" y="486" width="1" height="3"/><rect x="609" y="486" width="1" height="3"/><rect x="696" y="486" width="1" height="3"/><rect x="783" y="486" width="1" height="3"/><rect x="870" y="486" width="1" height="3"/></g>
  <!-- watermark -->
  <g fill="none" stroke="#CED3E2" stroke-width="2.5" stroke-linecap="round" stroke-linejoin="round">
    <path d="M792.8 383.4C794.6 379.6 796.6 375 798.5 375C800.4 375 799.8 382.6 801.4 382.6C803 382.6 803.6 375.2 805.4 375.2C807.2 375.2 807.3 381.6 809.2 381.6C810.5 381.6 811.2 380.2 811.2 378.8A10.6 10.6 0 1 0 808.1 386.3"/>
  </g>
  <rect x="23" y="410" width="53" height="19" fill="#969DAC"/>
</svg>
<div class="a" style="left:820.7px;top:372.2px;font-size:14.7px;line-height:15px;font-weight:700;color:#CED3E2">CoinMarketCap</div>
<div class="a" style="left:0;top:414px;width:66.2px;text-align:right;font-size:11px;line-height:11px;color:#F4F5F7">16.64K</div>
<div class="yl" style="top:147.5px">23.00K</div><div class="yl" style="top:189.5px">22.00K</div><div class="yl" style="top:231.5px">21.00K</div><div class="yl" style="top:272.5px">20.00K</div><div class="yl" style="top:314.5px">19.00K</div><div class="yl" style="top:356.5px">18.00K</div><div class="yl" style="top:398.5px">17.00K</div><div class="yl" style="top:439.5px">16.00K</div>
<div class="xl" style="left:53.9px">29</div><div class="xl b" style="left:141.9px">2023</div><div class="xl" style="left:229.9px">4</div><div class="xl" style="left:316.9px">7</div><div class="xl" style="left:403.9px">10</div><div class="xl" style="left:490.9px">13</div><div class="xl" style="left:578.9px">16</div><div class="xl" style="left:665.9px">19</div><div class="xl" style="left:752.9px">22</div><div class="xl" style="left:839.9px">25</div>
<div class="a" style="left:35px;top:492.8px;font-size:11.5px;line-height:11.5px;font-weight:700;color:#808A9D;letter-spacing:0.5px">USD</div>
</body></html>
